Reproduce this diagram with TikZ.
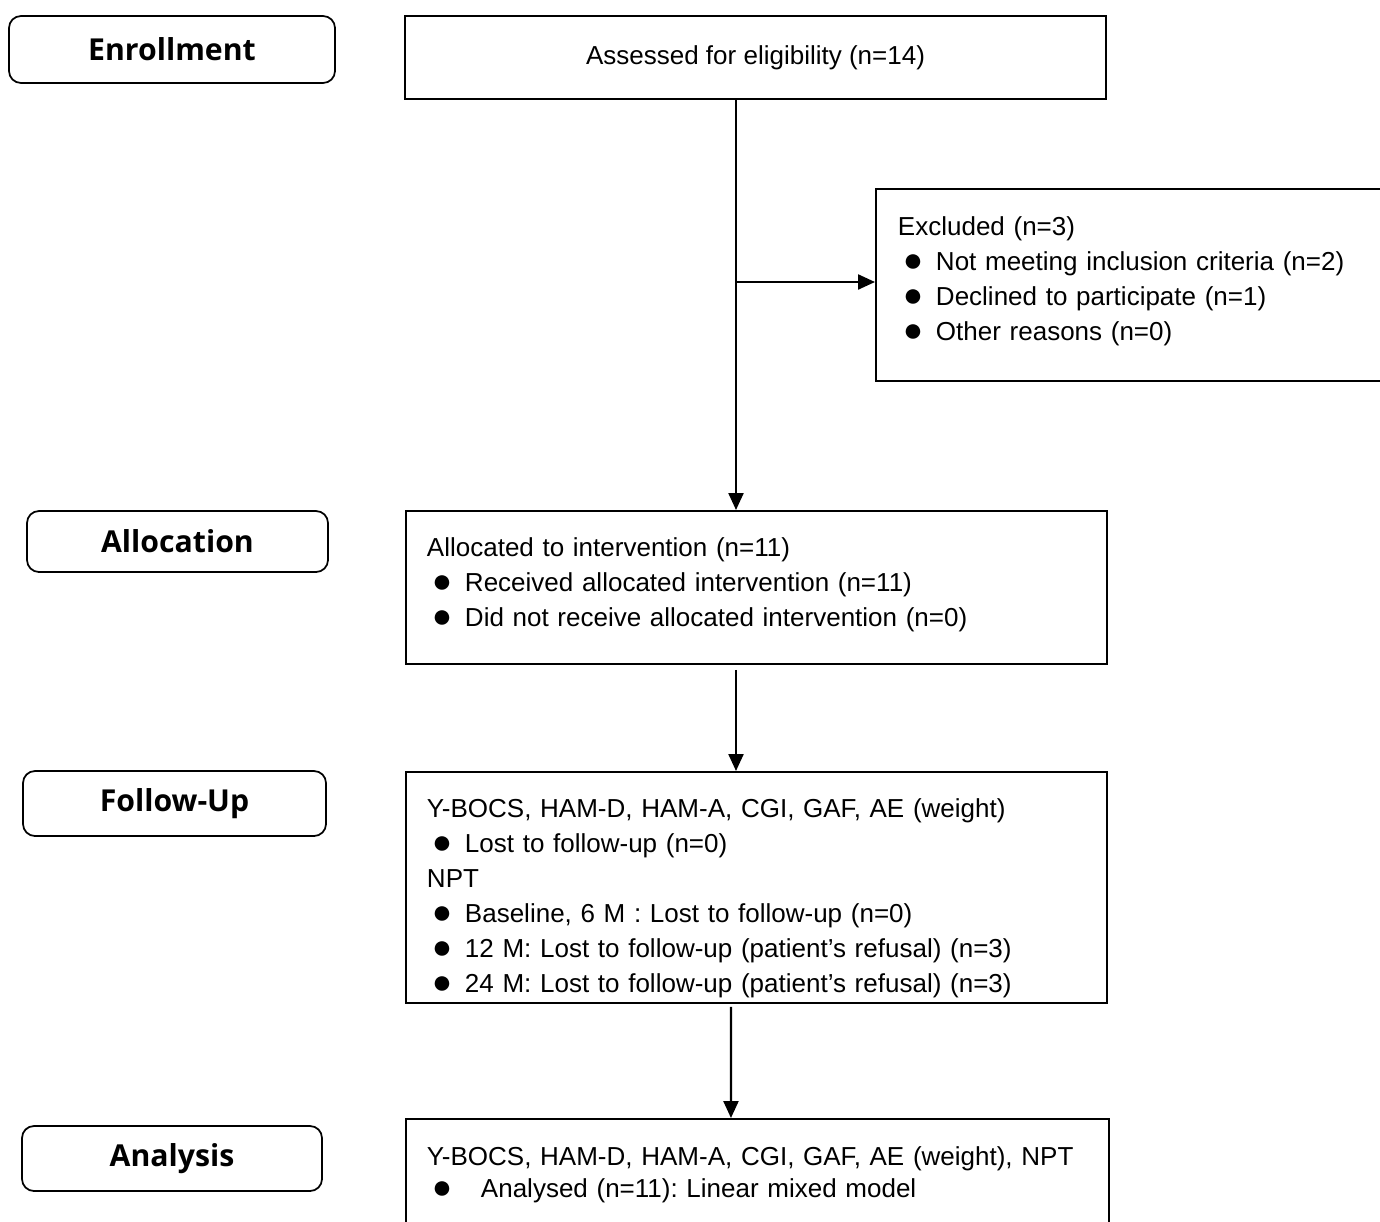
\documentclass[tikz,border=0pt]{standalone}
\usepackage{graphicx}
\usepackage{fontspec}
\setmainfont{Liberation Sans}
\newfontfamily\stagefont{Open Sans}
\usetikzlibrary{arrows.meta}
\usetikzlibrary{calc}
\frenchspacing
\newcommand{\blt}{\raisebox{-0.04em}{\scalebox{1.3}{●}}}
\newcommand{\itm}{\makebox[0.6cm]{\blt}\hspace{0.16cm}}

\begin{document}
\begin{tikzpicture}

                \tikzstyle{stage}   = [draw, rounded corners=0.24cm, line width=1pt, font=\stagefont\bfseries\fontsize{17.2pt}{20pt}\selectfont]
                \tikzstyle{flowbox} = [draw, line width=1.1pt, inner ysep=0pt, inner xsep=0.42cm, align=left, anchor=north west, font=\fontsize{14.8pt}{19.9pt}\selectfont]
                \tikzstyle{arrow}   = [-{Triangle[length=0.34cm,width=0.3cm]}, line width=1.3pt]

                \useasboundingbox (0,0) rectangle (27.6,-24.42);

                % stage labels on the left
                \foreach \nm/\txt/\x/\y/\w/\h in {enrol/Enrollment/3.44/-0.99/6.52/1.34,
                                                  alloclab/Allocation/3.55/-10.83/6.02/1.22,
                                                  followlab/Follow-Up/3.49/-16.07/6.06/1.30,
                                                  anallab/Analysis/3.44/-23.17/6.00/1.30}
                {
                        \node [stage, minimum width=\w cm, minimum height=\h cm](\nm) at (\x, \y) {\raisebox{-0.06cm}{\txt}};
                }

                \node [draw, line width=1.1pt, minimum width=14.02cm, minimum height=1.66cm,
                       font=\fontsize{14.8pt}{19.9pt}\selectfont](assess) at (15.11, -1.15) {Assessed for eligibility (n=14)};

                \node [flowbox, inner xsep=0.44cm, text width=9.62cm, text height=0.94cm, text depth=2.9cm](excl) at (17.5, -3.76)
                        {Excluded (n=3)\\
                         \itm Not meeting inclusion criteria (n=2)\\
                         \itm Declined to participate (n=1)\\
                         \itm Other reasons (n=0)};

                \node [flowbox, text width=13.18cm, text height=0.92cm, text depth=2.14cm](alloc) at (8.1, -10.2)
                        {Allocated to intervention (n=11)\\
                         \itm Received allocated intervention (n=11)\\
                         \itm Did not receive allocated intervention (n=0)};

                \node [flowbox, text width=13.18cm, text height=0.92cm, text depth=3.7cm](follow) at (8.1, -15.42)
                        {Y-BOCS, HAM-D, HAM-A, CGI, GAF, AE (weight)\\
                         \itm Lost to follow-up (n=0)\\
                         NPT\\
                         \itm Baseline, 6 M : Lost to follow-up (n=0)\\
                         \itm 12 M: Lost to follow-up (patient’s refusal) (n=3)\\
                         \itm 24 M: Lost to follow-up (patient’s refusal) (n=3)};

                \node [flowbox, text width=13.22cm, text height=0.94cm, text depth=3.06cm](anal) at (8.1, -22.36)
                        {Y-BOCS, HAM-D, HAM-A, CGI, GAF, AE (weight), NPT\\[-0.06cm]
                         \makebox[0.6cm]{\blt}\hspace{0.48cm}Analysed (n=11): Linear mixed model};

                % connectors
                \coordinate (split) at (14.72, -5.64);
                \draw [arrow] (assess.south -| split) -- (alloc.north -| split);
                \draw [arrow] (split) -- (excl.west |- split);
                \draw [arrow, shorten <=0.1cm] (alloc.south -| split) -- (follow.north -| split);
                \draw [arrow, shorten <=0.06cm] ([xshift=-0.51cm]follow.south) -- ([xshift=-0.53cm]anal.north);

\end{tikzpicture}
\end{document}
